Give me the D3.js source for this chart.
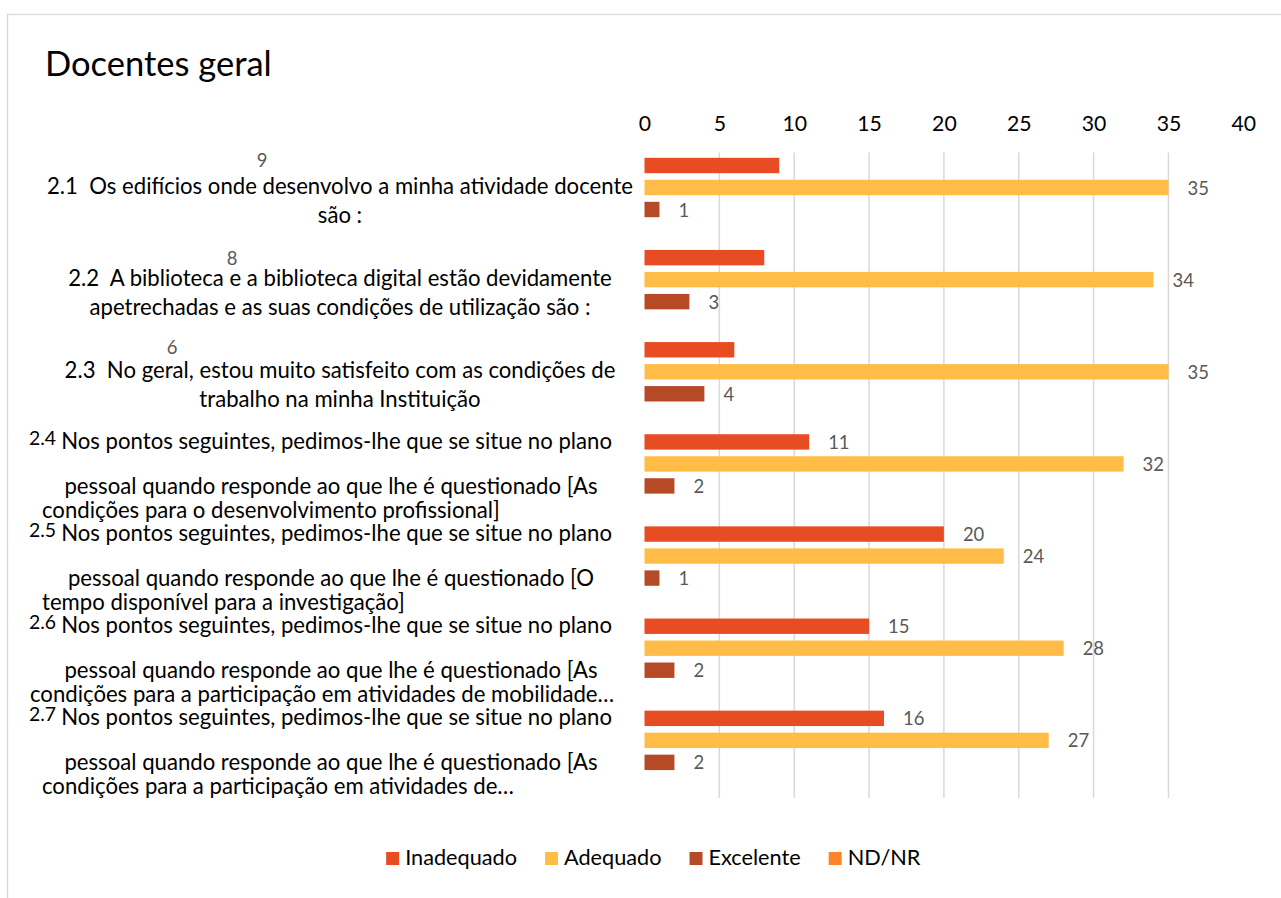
<!DOCTYPE html>
<html lang="pt">
<head>
<meta charset="utf-8">
<title>Docentes geral</title>
<script src="https://cdn.jsdelivr.net/npm/d3@7"></script>
<style>
  html, body { margin: 0; padding: 0; background: #ffffff; }
  svg { display: block; }
  svg text { white-space: pre; }
</style>
</head>
<body>
<svg id="chart" width="1281" height="898"></svg>
<script>
// ---- data ----
const categories = ["2.1", "2.2", "2.3", "2.4", "2.5", "2.6", "2.7"];

const categoryText = [
  ["2.1  Os edifícios onde desenvolvo a minha atividade docente", "são :"],
  ["2.2  A biblioteca e a biblioteca digital estão devidamente", "apetrechadas e as suas condições de utilização são :"],
  ["2.3  No geral, estou muito satisfeito com as condições de", "trabalho na minha Instituição"],
  ["Nos pontos seguintes, pedimos-lhe que se situe no plano", "pessoal quando responde ao que lhe é questionado [As", "condições para o desenvolvimento profissional]"],
  ["Nos pontos seguintes, pedimos-lhe que se situe no plano", "pessoal quando responde ao que lhe é questionado [O", "tempo disponível para a investigação]"],
  ["Nos pontos seguintes, pedimos-lhe que se situe no plano", "pessoal quando responde ao que lhe é questionado [As", "condições para a participação em atividades de mobilidade…"],
  ["Nos pontos seguintes, pedimos-lhe que se situe no plano", "pessoal quando responde ao que lhe é questionado [As", "condições para a participação em atividades de…"]
];

const seriesNames = ["Inadequado", "Adequado", "Excelente", "ND/NR"];
const inadequado = [9, 8, 6, 11, 20, 15, 16];
const adequado   = [35, 34, 35, 32, 24, 28, 27];
const excelente  = [1, 3, 4, 2, 1, 2, 2];
const ndnr       = [0, 0, 0, 0, 0, 0, 0];
const xTicks = [0, 5, 10, 15, 20, 25, 30, 35, 40];

// ---- styles ----
const colors = ["#E84C22", "#FFBD47", "#B64926", "#FF8427"];
const FONT = "Lato, 'Open Sans', 'DejaVu Sans', sans-serif";

const svg = d3.select("#chart");

// Scale the installed font so its text widths follow the narrower metrics of the original typeface
const probe = svg.append("text").style("font-family", FONT).style("font-size", "100px").text("Docentes geral");
const probeW = probe.node().getComputedTextLength();
probe.remove();
const k = 606.4 / probeW;
const fs = px => (px * k).toFixed(2) + "px";

// chart frame
svg.append("rect")
  .attr("x", 7.5).attr("y", 14.5)
  .attr("width", 1400).attr("height", 1000)
  .attr("fill", "none").attr("stroke", "#d9d9d9").attr("stroke-width", 1.3);

// title
svg.append("text")
  .attr("x", 45).attr("y", 76)
  .style("font-family", FONT).style("font-size", fs(37.4)).attr("fill", "#000")
  .text("Docentes geral");

// ---- scales ----
const plotTop = 152.5, plotBottom = 797.5;
const x = d3.scaleLinear().domain([0, 40]).range([644.5, 1243.3]);
const y0 = d3.scaleBand().domain(categories).range([plotTop, plotBottom]).padding(0);
const y1 = d3.scaleBand().domain(seriesNames)
  .range([2, 2 + 88]).paddingInner(0.3).paddingOuter(0.15);

// vertical gridlines (no line at either end of the axis)
svg.append("g").selectAll("line")
  .data(xTicks.filter(t => t > 0 && t < 40))
  .join("line")
  .attr("x1", d => x(d)).attr("x2", d => x(d))
  .attr("y1", plotTop).attr("y2", plotBottom + 0.5)
  .attr("stroke", "#d9d9d9").attr("stroke-width", 1.5);

// top axis labels
const axis = svg.append("g")
  .attr("transform", `translate(0,${131})`)
  .call(d3.axisTop(x).tickValues(xTicks).tickSize(0).tickPadding(0));
axis.select(".domain").remove();
axis.selectAll("text")
  .attr("y", 0).attr("dy", 0)
  .style("font-family", FONT).style("font-size", fs(23)).attr("fill", "#000");

// ---- bars ----
const seriesValues = [inadequado, adequado, excelente, ndnr];
const rows = [];
categories.forEach((c, i) => {
  seriesNames.forEach((s, j) => {
    rows.push({ cat: c, idx: i, series: s, sIdx: j, value: seriesValues[j][i] });
  });
});

svg.append("g").selectAll("rect")
  .data(rows)
  .join("rect")
  .attr("x", x(0))
  .attr("y", d => y0(d.cat) + y1(d.series))
  .attr("width", d => x(d.value) - x(0))
  .attr("height", y1.bandwidth())
  .attr("fill", d => colors[d.sIdx]);

// ---- value labels ----
// The first three "Inadequado" labels were dragged next to the category text.
const movedLabel = { 0: [262, 160], 1: [232, 258], 2: [172, 347] };

svg.append("g").selectAll("text")
  .data(rows.filter(d => d.value > 0))
  .join("text")
  .attr("x", d => (d.sIdx === 0 && movedLabel[d.idx]) ? movedLabel[d.idx][0] : x(d.value) + 19)
  .attr("y", d => (d.sIdx === 0 && movedLabel[d.idx]) ? movedLabel[d.idx][1]
                   : y0(d.cat) + y1(d.series) + y1.bandwidth() / 2)
  .attr("text-anchor", d => (d.sIdx === 0 && movedLabel[d.idx]) ? "middle" : "start")
  .attr("dominant-baseline", "central")
  .style("font-family", FONT).style("font-size", fs(20)).attr("fill", "#595959")
  .text(d => d.value);

// ---- category labels ----
const catG = svg.append("g")
  .style("font-family", FONT).attr("fill", "#000");
const catSize = fs(24);

categories.forEach((c, i) => {
  const cy = y0(c) + y0.bandwidth() / 2;
  const lines = categoryText[i];
  if (lines.length === 2) {
    lines.forEach((t, j) => {
      catG.append("text")
        .attr("x", 340).attr("y", cy - 5 + j * 29)
        .attr("text-anchor", "middle")
        .style("font-size", catSize)
        .text(t);
    });
  } else {
    catG.append("text")
      .attr("x", 29).attr("y", cy - 30)
      .style("font-size", fs(21))
      .text(c);
    catG.append("text")
      .attr("x", 612).attr("y", cy - 26)
      .attr("text-anchor", "end")
      .style("font-size", catSize)
      .text(lines[0]);
    catG.append("text")
      .attr("x", 331).attr("y", cy + 19)
      .attr("text-anchor", "middle")
      .style("font-size", catSize)
      .text(lines[1]);
    catG.append("text")
      .attr("x", i === 5 ? 30 : 42).attr("y", cy + 43)
      .style("font-size", catSize)
      .text(lines[2]);
  }
});

// ---- legend ----
const legend = svg.append("g").style("font-family", FONT);
const items = legend.selectAll("g").data(seriesNames).join("g");
items.append("rect").attr("width", 13).attr("height", 13).attr("y", -13)
  .attr("fill", (d, i) => colors[i]);
items.append("text").attr("x", 19).attr("y", 0)
  .style("font-size", fs(23.5)).attr("fill", "#000")
  .text(d => d);
let cursor = 0;
items.each(function () {
  const g = d3.select(this);
  g.attr("transform", `translate(${cursor},0)`);
  cursor += this.getBBox().width + 28;
});
const legendW = cursor - 28;
legend.attr("transform", `translate(${653.5 - legendW / 2},${865})`);
</script>
</body>
</html>
